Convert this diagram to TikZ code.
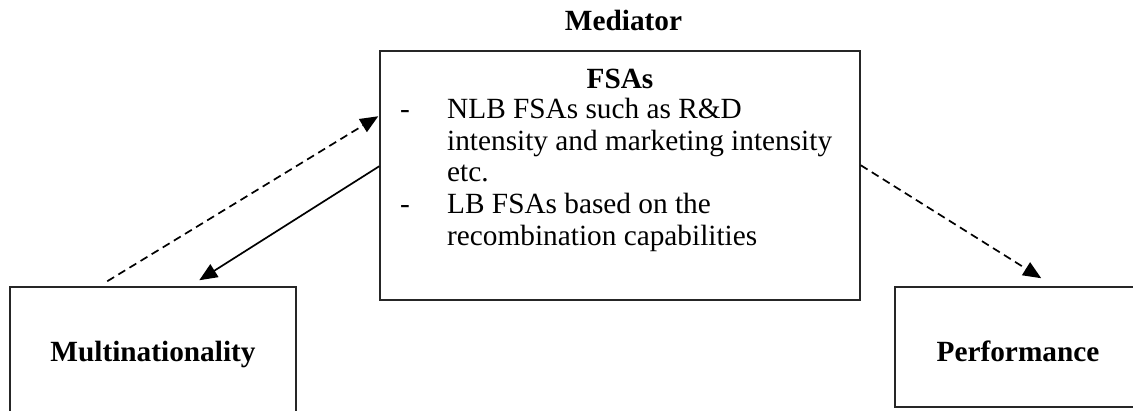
\documentclass[tikz,border=0pt]{standalone}
\usepackage{fontspec}
\setmainfont{Liberation Serif}
\usetikzlibrary{arrows.meta,calc}

\tikzset{
  box/.style={draw=black!85, line width=1.5pt, inner sep=0pt},
  link/.style={line width=1.7pt, -{Triangle[length=18pt,width=15pt]}},
  maybe/.style={link, dash pattern=on 8pt off 5pt},
  big/.style={font=\fontsize{29.3}{31.7}\selectfont},
  bigbold/.style={font=\bfseries\fontsize{29.3}{31.7}\selectfont},
}

\begin{document}
\begin{tikzpicture}[x=1pt, y=-1pt]
  \useasboundingbox (0,0) rectangle (1133,410);

  % the three blocks
  \node[box, minimum width=480pt, minimum height=249pt] (med) at (620,175.5) {};
  \node[box, bigbold, minimum width=286pt, minimum height=126pt,
        text height=22pt, text depth=0pt] (multi) at (153,350) {Multinationality};
  \node[box, bigbold, minimum width=246pt, minimum height=120pt,
        text height=28pt, text depth=0pt] (perf) at (1018,347) {Performance};

  % headings
  \node[bigbold, anchor=base, inner sep=0pt] (medlabel) at (623.5,30) {Mediator};
  \node[bigbold, anchor=base, inner sep=0pt] (fsas) at (620,88) {FSAs};

  % list of firm-specific advantages
  \node[big, anchor=base west, inner sep=0pt] (list) at (400,118.3) {%
    \begin{tabular}[t]{@{}p{47pt}@{}l@{}}
      - & NLB FSAs such as R\&D\\
        & intensity and marketing intensity\\
        & etc.\\
      - & LB FSAs based on the\\
        & recombination capabilities
    \end{tabular}};

  % connectors
  \draw[maybe] ($(multi.north west)+(98,-5)$) -- ($(med.north west)+(-1,66)$);
  \draw[link]  ($(med.north west)+(0,116)$) -- ($(multi.north west)+(190,-6)$);
  \draw[maybe] ($(med.north east)+(0,115)$) -- ($(perf.north west)+(147,-8)$);
\end{tikzpicture}
\end{document}
